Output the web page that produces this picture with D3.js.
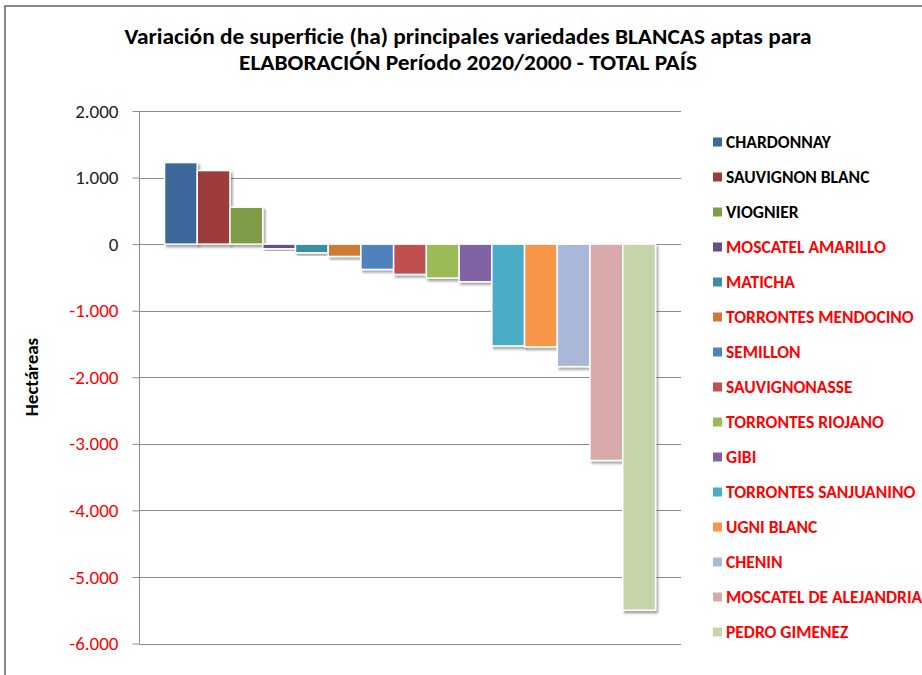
<!DOCTYPE html>
<html><head><meta charset="utf-8">
<script src="https://cdn.jsdelivr.net/npm/d3@7"></script>
<style>body{margin:0;background:#fff;} svg{display:block;}</style>
</head><body>
<script>
const categories = ["CHARDONNAY","SAUVIGNON BLANC","VIOGNIER","MOSCATEL AMARILLO","MATICHA","TORRONTES MENDOCINO","SEMILLON","SAUVIGNONASSE","TORRONTES RIOJANO","GIBI","TORRONTES SANJUANINO","UGNI BLANC","CHENIN","MOSCATEL DE ALEJANDRIA","PEDRO GIMENEZ"];
const values = [1225, 1105, 555, -70, -130, -185, -380, -455, -510, -565, -1530, -1545, -1840, -3250, -5500];
const colors = ["#3D689C","#9C3D3A","#7E9B46","#664F87","#3A8DA5","#CE7A34","#4F81BD","#C0504D","#9BBB59","#8064A2","#4BACC6","#F79646","#A9B8D8","#D9A8A8","#C6D5A9"];
const yTicks = [2000,1000,0,-1000,-2000,-3000,-4000,-5000,-6000];
const titleLines = ["Variación de superficie (ha) principales variedades BLANCAS aptas para","ELABORACIÓN Período 2020/2000 - TOTAL PAÍS"];
const yLabel = "Hectáreas";

const W = 922, H = 675;
const svg = d3.select("body").append("svg").attr("width", W).attr("height", H);
const font = "Carlito, 'Liberation Sans', Arial, sans-serif";

const defs = svg.append("defs");
const f = defs.append("filter").attr("id","sh").attr("x","-20%").attr("y","-20%").attr("width","150%").attr("height","150%");
f.append("feDropShadow").attr("dx",2).attr("dy",2.5).attr("stdDeviation",1.3).attr("flood-color","#000").attr("flood-opacity",0.35);

// outer border
svg.append("rect").attr("x",5).attr("y",6).attr("width",W+10).attr("height",H+10)
  .attr("fill","none").attr("stroke","#888").attr("stroke-width",2);

// title
svg.append("g").selectAll("text").data(titleLines).join("text")
  .attr("x", 468).attr("y", (d,i) => 44 + i*26)
  .attr("text-anchor","middle").attr("font-family",font).attr("font-weight","bold")
  .attr("font-size",22).attr("fill","#000")
  .attr("textLength",(d,i)=> i===0 ? 687 : 458).attr("lengthAdjust","spacingAndGlyphs")
  .text(d=>d);

const y = d3.scaleLinear().domain([-6000, 2000]).range([643.5, 111]);
const x = d3.scaleBand().domain(categories).range([139, 681]).paddingInner(0).paddingOuter(0.78);

// gridlines
svg.append("g").selectAll("line").data(yTicks).join("line")
  .attr("x1",139).attr("x2",681).attr("y1",d=>Math.round(y(d))+0.5).attr("y2",d=>Math.round(y(d))+0.5)
  .attr("stroke","#8c8c8c").attr("stroke-width",1);

// y axis
const loc = d3.formatLocale({decimal: ",", thousands: ".", grouping: [3], currency: ["$",""], minus: "-"});
const yAxis = d3.axisLeft(y).tickValues(yTicks).tickSize(7).tickPadding(14)
  .tickFormat(loc.format(",d"));
const ga = svg.append("g").attr("transform","translate(139.5,0)").call(yAxis);
ga.select(".domain").attr("stroke","#8c8c8c").attr("d","M0,111V643.5");
ga.selectAll(".tick line").attr("stroke","#8c8c8c");
ga.selectAll(".tick text").attr("font-family",font).attr("font-size",19)
  .attr("fill", d => d < 0 ? "#FF0000" : "#222");

// y label
svg.append("text").attr("transform","translate(38,377) rotate(-90)")
  .attr("text-anchor","middle").attr("font-family",font).attr("font-weight","bold")
  .attr("font-size",19).attr("fill","#000").text(yLabel);

// bars
svg.append("g").selectAll("rect").data(categories).join("rect")
  .attr("x", d => x(d))
  .attr("width", x.bandwidth())
  .attr("y", (d,i) => Math.min(y(values[i]), y(0)))
  .attr("height", (d,i) => Math.abs(y(values[i]) - y(0)))
  .attr("fill", (d,i) => colors[i])
  .attr("stroke","#fff").attr("stroke-width",1.5)
  .attr("filter","url(#sh)");

// legend
const lg = svg.append("g").selectAll("g").data(categories).join("g")
  .attr("transform",(d,i)=>`translate(713,${142 + i*35})`);
lg.append("rect").attr("x",0).attr("y",-4.5).attr("width",9).attr("height",9)
  .attr("fill",(d,i)=>colors[i]);
lg.append("text").attr("x",13).attr("y",6).attr("font-family",font).attr("font-weight","bold")
  .attr("font-size",17.5).attr("fill",(d,i)=> i<3 ? "#000" : "#FF0000").text(d=>d);
</script>
</body></html>
